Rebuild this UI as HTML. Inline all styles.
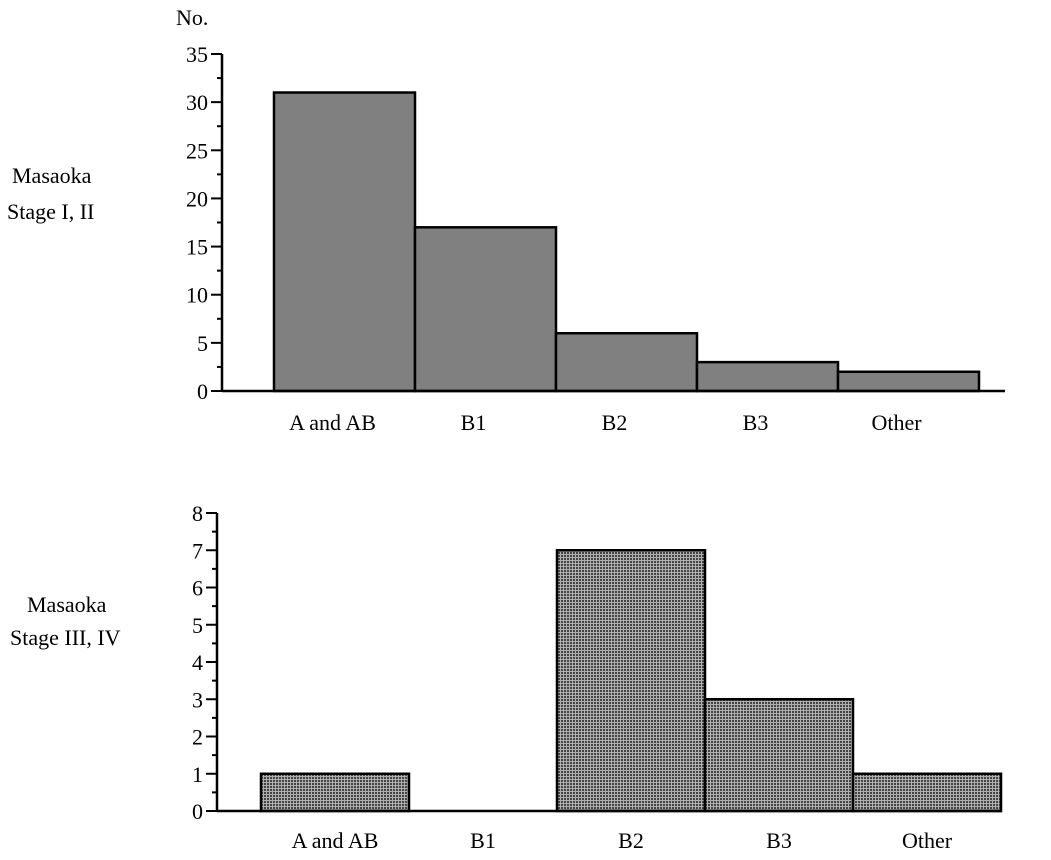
<!DOCTYPE html>
<html><head><meta charset="utf-8"><style>
html,body{margin:0;padding:0;background:#fff;}
svg{display:block;font-family:"Liberation Serif",serif;}
</style></head><body>
<svg width="1051" height="860" viewBox="0 0 1051 860">
<defs>
<pattern id="stip" width="3" height="3" patternUnits="userSpaceOnUse">
<rect width="3" height="3" fill="#b0b0b0"/><rect width="2" height="2" fill="#444"/>
</pattern>
</defs>
<text x="176" y="25" font-size="22">No.</text>
<text x="12" y="183" font-size="22">Masaoka</text>
<text x="7" y="219" font-size="22">Stage I, II</text>
<text x="27" y="612" font-size="22">Masaoka</text>
<text x="10" y="645" font-size="22">Stage III, IV</text>
<g id="top"></g>
<g id="bot"></g>
</svg>
<script>
const categories = ["A and AB","B1","B2","B3","Other"];
const topValues = [31,17,6,3,2];
const botValues = [1,0,7,3,1];
const topTicks = [0,5,10,15,20,25,30,35];
const botTicks = [0,1,2,3,4,5,6,7,8];
const NS="http://www.w3.org/2000/svg";
function mk(p,t,a){const e=document.createElementNS(NS,t);for(const k in a)e.setAttribute(k,a[k]);p.appendChild(e);return e;}
function draw(g,cfg,vals,ticks,fill,name){
  const y=v=>cfg.y0-(v-cfg.min)/(cfg.max-cfg.min)*(cfg.y0-cfg.y1);
  vals.forEach((v,i)=>{
    const bx=cfg.left+i*cfg.bw;
    const r=mk(g,'rect',{x:bx,y:y(v),width:cfg.bw,height:cfg.y0-y(v),fill:fill,stroke:'#000','stroke-width':2.5});
    
    
    const t=mk(g,'text',{x:bx+cfg.bw/2-cfg.shift,y:cfg.y0+cfg.lab,'font-size':22,'text-anchor':'middle'});
    t.textContent=categories[i];
    
    
  });
  const ax=mk(g,'line',{x1:cfg.ax,y1:cfg.y0,x2:cfg.ax,y2:y(cfg.max),stroke:'#000','stroke-width':2.5});
  
  
  const xl=mk(g,'line',{x1:cfg.xs,y1:cfg.y0,x2:cfg.xe,y2:cfg.y0,stroke:'#000','stroke-width':2.5});
  
  
  ticks.forEach((v,i)=>{
    mk(g,'line',{x1:cfg.ax-11,y1:y(v),x2:cfg.ax,y2:y(v),stroke:'#000','stroke-width':2});
    if(i<ticks.length-1){const m=(v+ticks[i+1])/2;mk(g,'line',{x1:cfg.ax-5,y1:y(m),x2:cfg.ax,y2:y(m),stroke:'#000','stroke-width':2});}
    const t=mk(g,'text',{x:cfg.ax-14,y:y(v)+8,'font-size':22,'text-anchor':'end'});
    t.textContent=v;
    
    
  });
}
draw(document.getElementById('top'),{y0:391,y1:54,min:0,max:35,left:274,bw:141,ax:222,xs:222,xe:1005,lab:39,shift:12},topValues,topTicks,'#808080','top');
draw(document.getElementById('bot'),{y0:811,y1:513,min:0,max:8,left:261,bw:148,ax:217,xs:217,xe:1002,lab:37,shift:0},botValues,botTicks,'url(#stip)','bottom');
</script>
</body></html>
